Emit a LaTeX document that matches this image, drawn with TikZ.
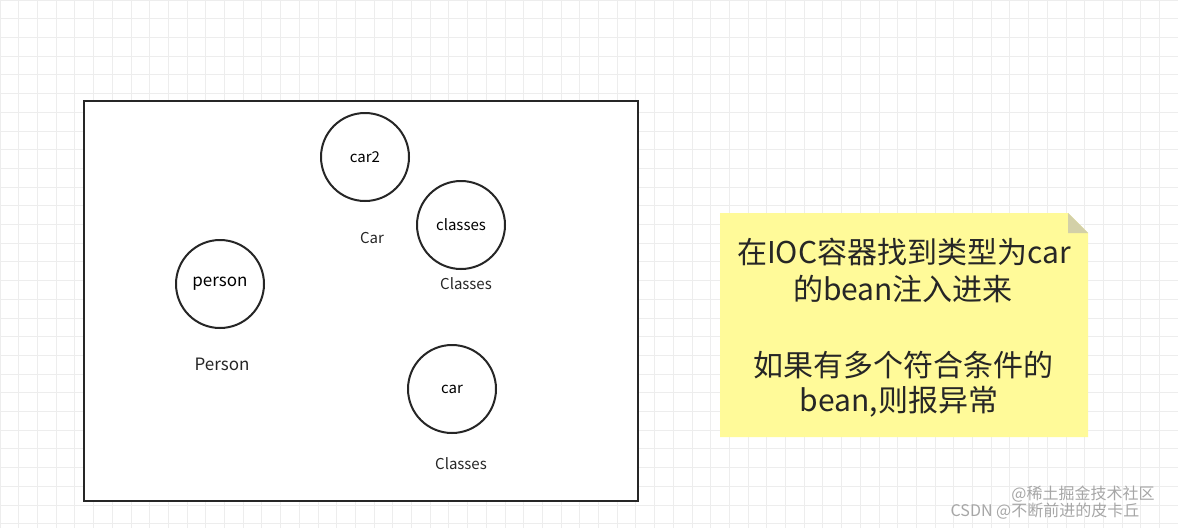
\documentclass[tikz,border=0pt]{standalone}
\usepackage{fontspec}
\setmainfont{Noto Sans CJK SC}
\begin{document}
\begin{tikzpicture}[x=1pt,y=-1pt,
  bean/.style={draw=black!85,line width=2pt,circle,minimum size=88pt,inner sep=0pt,font=\fontsize{15}{18}\selectfont},
  lbl/.style={font=\fontsize{15}{18}\selectfont,text=black!85},
  note/.style={font=\fontsize{30}{36}\selectfont,text=black!85}]
\useasboundingbox (0,0) rectangle (1178,528);
\fill[white] (0,0) rectangle (1178,528);
\foreach \i in {0,...,63} {\draw[black!7,line width=0.8pt] (\i*18.7,0) -- (\i*18.7,528);}
\foreach \j in {0,...,28} {\draw[black!7,line width=0.8pt] (0,\j*18.7) -- (1178,\j*18.7);}
\node[draw=black!85,line width=2pt,fill=white,minimum width=554pt,minimum height=400pt,anchor=north west,inner sep=0pt] (box) at (83,100) {};
\node[bean] (car2) at (365,157) {car2};
\node[bean] (classes) at (461,225) {classes};
\node[bean,font=\fontsize{17}{20}\selectfont] (person) at (220,284) {person};
\node[bean] (car) at (452,389) {car};
\node[lbl] (l1) at (372,238) {Car};
\node[lbl] (l2) at (466,284) {Classes};
\node[lbl,font=\fontsize{17}{20}\selectfont] (l3) at (222,364) {Person};
\node[lbl] (l4) at (461,464) {Classes};
\fill[yellow!40] (720,213) -- (1068,213) -- (1088,233) -- (1088,437) -- (720,437) -- cycle;
\fill[yellow!50!black!40] (1068,213) -- (1088,233) -- (1068,233) -- cycle;
\node[note] (t1) at (904,252) {在IOC容器找到类型为car};
\node[note] (t2) at (903,289) {的bean注入进来};
\node[note] (t3) at (903,365) {如果有多个符合条件的};
\node[note] (t4) at (899,402) {bean,则报异常};
\node[font=\fontsize{16}{18}\selectfont,text=black!35] (w1) at (1083,494) {@稀土掘金技术社区};
\node[font=\fontsize{16}{18}\selectfont,text=black!35] (w2) at (1045,511) {CSDN @不断前进的皮卡丘};
\end{tikzpicture}
\end{document}
